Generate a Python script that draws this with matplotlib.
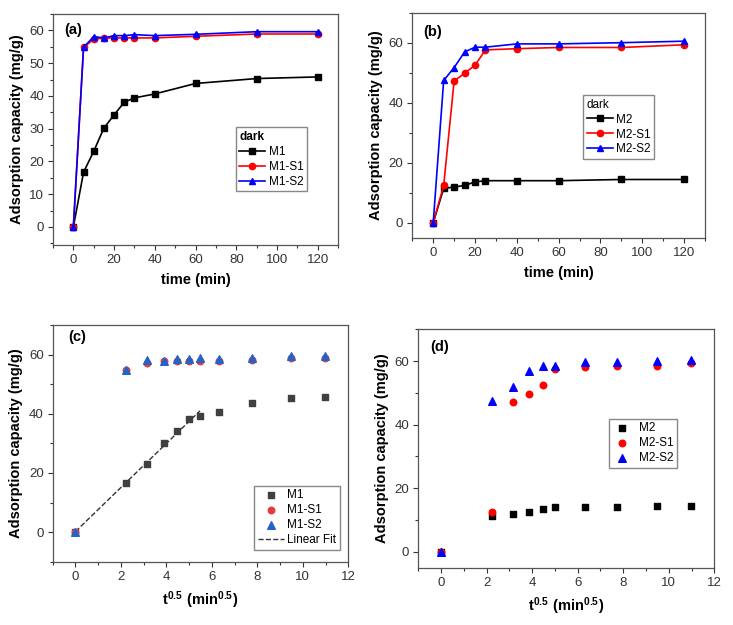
import numpy as np
import matplotlib
matplotlib.use("Agg")
import matplotlib.pyplot as plt
from matplotlib.ticker import MultipleLocator

plt.rcParams['font.family'] = ['Liberation Sans', 'DejaVu Sans']
plt.rcParams['mathtext.fontset'] = 'custom'
plt.rcParams['mathtext.rm'] = 'Liberation Sans'
plt.rcParams['mathtext.bf'] = 'Liberation Sans:bold'

# ---- data ----
t1 = [0, 5, 10, 15, 20, 25, 30, 40, 60, 90, 120]
m1 = [0, 16.7, 23.1, 30.2, 34.2, 38.1, 39.4, 40.6, 43.8, 45.3, 45.8]
m1_s1 = [0, 54.8, 57.3, 57.7, 57.7, 57.7, 57.7, 57.7, 58.2, 58.9, 58.9]
m1_s2 = [0, 54.8, 58.1, 57.7, 58.4, 58.4, 58.7, 58.4, 58.8, 59.6, 59.6]

t2 = [0, 5, 10, 15, 20, 25, 40, 60, 90, 120]
m2 = [0, 11.4, 11.9, 12.4, 13.6, 14.0, 14.0, 14.0, 14.4, 14.4]
m2_s1 = [0, 12.4, 47.2, 49.8, 52.5, 57.6, 58.0, 58.4, 58.4, 59.3]
m2_s2 = [0, 47.4, 51.7, 56.9, 58.5, 58.5, 59.6, 59.6, 60.0, 60.5]

n_fit = 7  # points used for the linear fit in (c)

fig = plt.figure(figsize=(7.33, 6.25), dpi=100)
ax_a = fig.add_axes([0.0723, 0.608, 0.389, 0.3696])
ax_b = fig.add_axes([0.5625, 0.6197, 0.3993, 0.36])
ax_c = fig.add_axes([0.0719, 0.1013, 0.4033, 0.3787])
ax_d = fig.add_axes([0.5707, 0.0917, 0.4038, 0.3814])

tick_fs = 9.5
lab_fs = 10.5
leg_fs = 8.5
edge = '#555555'
sqrt_label = r'$\mathbf{t^{0.5}\ (min^{0.5})}$'


def style(ax, xlim, ylim, xmaj, xmin, ymaj, ymin, xlabel):
    ax.set_xlim(*xlim)
    ax.set_ylim(*ylim)
    ax.xaxis.set_major_locator(MultipleLocator(xmaj))
    ax.xaxis.set_minor_locator(MultipleLocator(xmin))
    ax.yaxis.set_major_locator(MultipleLocator(ymaj))
    ax.yaxis.set_minor_locator(MultipleLocator(ymin))
    ax.tick_params(which='both', direction='out', top=False, right=False,
                   labelsize=tick_fs, colors='#333333', width=0.8, pad=3)
    ax.tick_params(which='major', length=3.5)
    ax.tick_params(which='minor', length=2)
    for s in ax.spines.values():
        s.set_color(edge)
        s.set_linewidth(0.9)
    ax.set_xlabel(xlabel, fontsize=lab_fs, fontweight='bold', labelpad=5)
    ax.set_ylabel('Adsorption capacity (mg/g)', fontsize=lab_fs,
                  fontweight='bold', labelpad=4)


def legend_box(ax, **kw):
    return ax.legend(fontsize=leg_fs, fancybox=False, edgecolor='#888888',
                     framealpha=1, borderpad=0.3, labelspacing=0.25, **kw)


# (a)
ax_a.plot(t1, m1, color='black', marker='s', ms=4.5, lw=1.2, label='M1')
ax_a.plot(t1, m1_s1, color='red', marker='o', ms=4.5, lw=1.2, label='M1-S1')
ax_a.plot(t1, m1_s2, color='blue', marker='^', ms=5, lw=1.2, label='M1-S2')
style(ax_a, (-10, 130), (-5.5, 65), 20, 10, 10, 5, 'time (min)')
ax_a.text(0.04, 0.93, '(a)', transform=ax_a.transAxes, fontsize=lab_fs,
          fontweight='bold', va='center')
leg = legend_box(ax_a, title='dark', loc='upper left',
                 bbox_to_anchor=(0.62, 0.535), title_fontsize=leg_fs,
                 handlelength=2.2, handletextpad=0.3)
leg.get_title().set_fontweight('bold')
leg._legend_box.align = 'left'

# (b)
ax_b.plot(t2, m2, color='black', marker='s', ms=4.5, lw=1.2, label='M2')
ax_b.plot(t2, m2_s1, color='red', marker='o', ms=4.5, lw=1.2, label='M2-S1')
ax_b.plot(t2, m2_s2, color='blue', marker='^', ms=5, lw=1.2, label='M2-S2')
style(ax_b, (-10, 130), (-5, 70), 20, 10, 20, 10, 'time (min)')
ax_b.text(0.038, 0.915, '(b)', transform=ax_b.transAxes, fontsize=lab_fs,
          fontweight='bold', va='center')
leg = legend_box(ax_b, title='dark', loc='upper left',
                 bbox_to_anchor=(0.563, 0.66), title_fontsize=leg_fs,
                 handlelength=2.2, handletextpad=0.3)
leg._legend_box.align = 'left'

# (c)
x1 = np.sqrt(t1)
ax_c.scatter(x1, m1, color='#404040', marker='s', s=22, label='M1', zorder=3)
ax_c.scatter(x1, m1_s1, color='#e23c3c', marker='o', s=22, label='M1-S1', zorder=3)
ax_c.scatter(x1, m1_s2, color='#2464c8', marker='^', s=30, label='M1-S2', zorder=4)
k, b = np.polyfit(x1[:n_fit], m1[:n_fit], 1)
xf = np.array([x1[0], x1[n_fit - 1]])
ax_c.plot(xf, k * xf + b, color='#333333', ls='--', lw=1, label='Linear Fit', zorder=2)
style(ax_c, (-1, 12), (-10, 70), 2, 1, 20, 10, sqrt_label)
ax_c.text(0.052, 0.95, '(c)', transform=ax_c.transAxes, fontsize=lab_fs,
          fontweight='bold', va='center')
legend_box(ax_c, loc='lower right', bbox_to_anchor=(0.975, 0.045),
           handlelength=2.2, handletextpad=0.3, borderaxespad=0.1)

# (d)
x2 = np.sqrt(t2)
ax_d.scatter(x2, m2, color='black', marker='s', s=22, label='M2', zorder=3)
ax_d.scatter(x2, m2_s1, color='red', marker='o', s=22, label='M2-S1', zorder=3)
ax_d.scatter(x2, m2_s2, color='blue', marker='^', s=30, label='M2-S2', zorder=4)
style(ax_d, (-1, 12), (-5, 70), 2, 1, 20, 10, sqrt_label)
ax_d.text(0.04, 0.927, '(d)', transform=ax_d.transAxes, fontsize=lab_fs,
          fontweight='bold', va='center')
legend_box(ax_d, loc='upper left', bbox_to_anchor=(0.625, 0.65),
           handlelength=1.6, handletextpad=0.6)

fig.savefig('out.png', dpi=100)
